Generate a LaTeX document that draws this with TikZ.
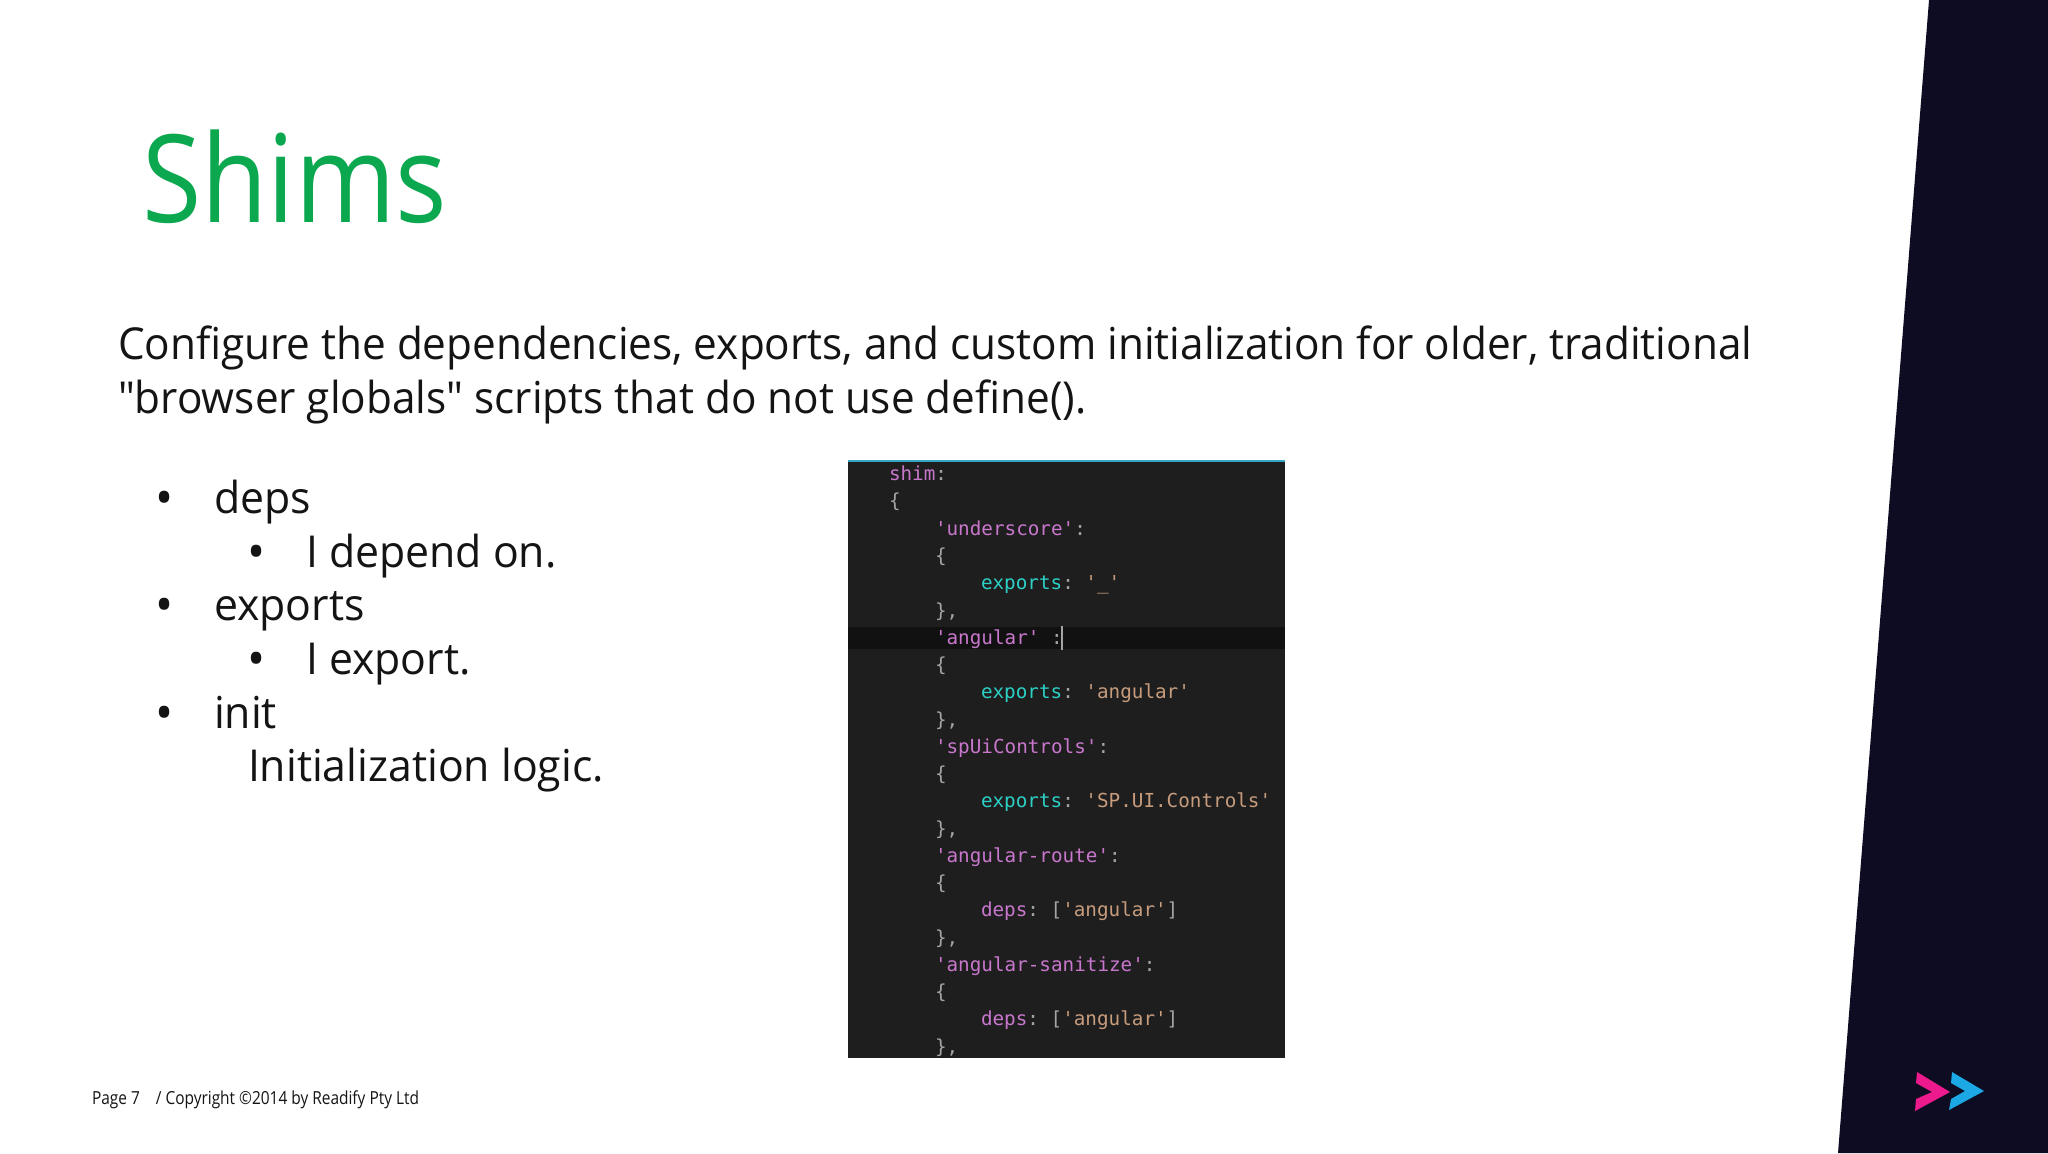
\documentclass[tikz,border=0pt]{standalone}
\usepackage{fontspec}
\setmonofont{DejaVu Sans Mono}
\newfontfamily\bodyfont{Open Sans}[FakeStretch=0.961]
\newfontfamily\listfont{Open Sans}[FakeStretch=0.972]
\newfontfamily\footfont{Open Sans}[FakeStretch=0.858]
\newfontfamily\titlefont{Open Sans}[FakeStretch=0.885]
\definecolor{slidegreen}{HTML}{0BA84F}
\definecolor{bodyink}{HTML}{141414}
\definecolor{bandnavy}{HTML}{0D0C22}
\definecolor{codebg}{HTML}{1E1E1F}
\definecolor{codeline}{HTML}{111112}
\definecolor{codetop}{HTML}{35A8C8}
\definecolor{tkpink}{HTML}{C877CC}
\definecolor{tkcyan}{HTML}{2CD0C4}
\definecolor{tkorange}{HTML}{C69C7C}
\definecolor{tkgray}{HTML}{A4A4A4}
\definecolor{logopink}{HTML}{EC1A8C}
\definecolor{logoblue}{HTML}{1CA8E4}
\newcommand{\pk}[1]{\textcolor{tkpink}{#1}}
\newcommand{\cy}[1]{\textcolor{tkcyan}{#1}}
\newcommand{\og}[1]{\textcolor{tkorange}{#1}}
\tikzset{
  x=0.5pt,y=-0.5pt,
  txt/.style={anchor=base west,inner sep=0pt,outer sep=0pt,text=bodyink,font=\bodyfont\fontsize{22}{26}\selectfont},
  lst/.style={anchor=base west,inner sep=0pt,outer sep=0pt,text=bodyink,font=\listfont\fontsize{22}{26}\selectfont},
  bul/.style={anchor=base west,inner sep=0pt,outer sep=0pt,text=bodyink,font=\bodyfont\fontsize{25}{30}\selectfont},
  foot/.style={anchor=base west,inner sep=0pt,outer sep=0pt,text=bodyink,font=\footfont\fontsize{9}{11}\selectfont},
  code/.style={anchor=base west,inner sep=0pt,outer sep=0pt,text=tkgray,font=\ttfamily\fontsize{9.64}{11}\selectfont},
}
\begin{document}
\begin{tikzpicture}
\useasboundingbox (0,0) rectangle (2048,1153);
\fill[white] (0,0) rectangle (2048,1153);
\fill[bandnavy] (1929,0) -- (2048,0) -- (2048,1153) -- (1838,1153) -- cycle;
\fill[logopink] (1917,1072) -- (1950,1092) -- (1915,1111) -- (1916,1099) -- (1932,1092) -- (1916,1083) -- cycle;
\fill[logoblue] (1952,1072) -- (1984,1091) -- (1949,1110) -- (1951,1099) -- (1965,1091) -- (1951,1083) -- cycle;

\node[anchor=base west,inner sep=0pt,text=slidegreen,font=\titlefont\fontsize{61}{68}\selectfont] (title) at (142,222) {Shims};
\node[txt] (p1) at (118,359) {Configure the dependencies, exports, and custom initialization for older, traditional};
\node[txt] (p2) at (118,413) {"browser globals" scripts that do not use define().};

\node[bul] (b1) at (155,515.5) {•}; \node[lst] (t1) at (214,513) {deps};
\node[bul] (b2) at (247,569.5) {•}; \node[lst] (t2) at (306,567) {I depend on.};
\node[bul] (b3) at (155,622.5) {•}; \node[lst] (t3) at (214,620) {exports};
\node[bul] (b4) at (247,676.5) {•}; \node[lst] (t4) at (306,674) {I export.};
\node[bul] (b5) at (155,730.5) {•}; \node[lst] (t5) at (214,728) {init};
\node[lst] (t6) at (248,781) {Initialization logic.};

\node[foot] (footer) at (92,1104) {Page 7\hspace{8pt}/ Copyright ©2014 by Readify Pty Ltd};

\fill[codebg] (848,461) rectangle (1285,1058);
\draw[codetop,line width=1pt] (848,461) -- (1285,461);
\fill[codeline] (848,627) rectangle (1285,649);
\draw[tkgray,line width=0.8pt] (1062,626) -- (1062,650);

\node[code] (c1)  at (889,480)  {\pk{shim}:};
\node[code] (c2)  at (889,507)  {\{};
\node[code] (c3)  at (935,535)  {\pk{'underscore'}:};
\node[code] (c4)  at (935,562)  {\{};
\node[code] (c5)  at (981,589)  {\cy{exports}: \og{'\_'}};
\node[code] (c6)  at (935,617)  {\},};
\node[code] (c7)  at (935,644)  {\pk{'angular'} :};
\node[code] (c8)  at (935,671)  {\{};
\node[code] (c9)  at (981,698)  {\cy{exports}: \og{'angular'}};
\node[code] (c10) at (935,726)  {\},};
\node[code] (c11) at (935,753)  {\pk{'spUiControls'}:};
\node[code] (c12) at (935,780)  {\{};
\node[code] (c13) at (981,807)  {\cy{exports}: \og{'SP.UI.Controls'}};
\node[code] (c14) at (935,835)  {\},};
\node[code] (c15) at (935,862)  {\pk{'angular-route'}:};
\node[code] (c16) at (935,889)  {\{};
\node[code] (c17) at (981,916)  {\pk{deps}: [\og{'angular'}]};
\node[code] (c18) at (935,944)  {\},};
\node[code] (c19) at (935,971)  {\pk{'angular-sanitize'}:};
\node[code] (c20) at (935,998)  {\{};
\node[code] (c21) at (981,1025) {\pk{deps}: [\og{'angular'}]};
\begin{scope}
\clip (848,461) rectangle (1285,1058);
\node[code] (c22) at (935,1053) {\},};
\end{scope}
\end{tikzpicture}
\end{document}
